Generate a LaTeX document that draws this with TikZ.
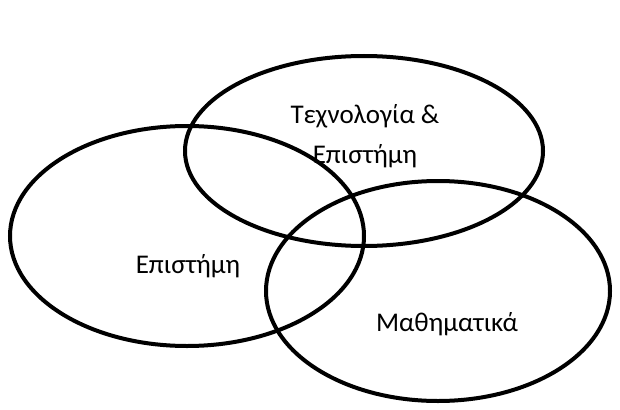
\documentclass[tikz,border=0pt]{standalone}
\usepackage{fontspec}
\setmainfont{Carlito}
\usepackage{tikz}
\usetikzlibrary{shapes.geometric}

\begin{document}
\begin{tikzpicture}[
		x=1pt, y=-1pt,
		set/.style={
				draw,
				ellipse,
				line width=4pt,
				inner sep=0pt
			},
		label/.style={
				font=\fontsize{27}{40}\selectfont,
				align=center
			}
	]
	\useasboundingbox (0, 0) rectangle (620, 409);

	% the three sets
	\node[set, minimum width=358pt, minimum height=190pt] (tech) at (364, 151) {};
	\node[set, minimum width=354pt, minimum height=220pt] (sci) at (187, 236) {};
	\node[set, minimum width=344pt, minimum height=220pt] (math) at (438, 291) {};

	% their labels
	\node[label] (techtext) at (365, 136) {Τεχνολογία \&\\Επιστήμη};
	\node[label] (scitext) at (188, 266) {Επιστήμη};
	\node[label] (mathtext) at (447, 324) {Μαθηματικά};
\end{tikzpicture}
\end{document}
